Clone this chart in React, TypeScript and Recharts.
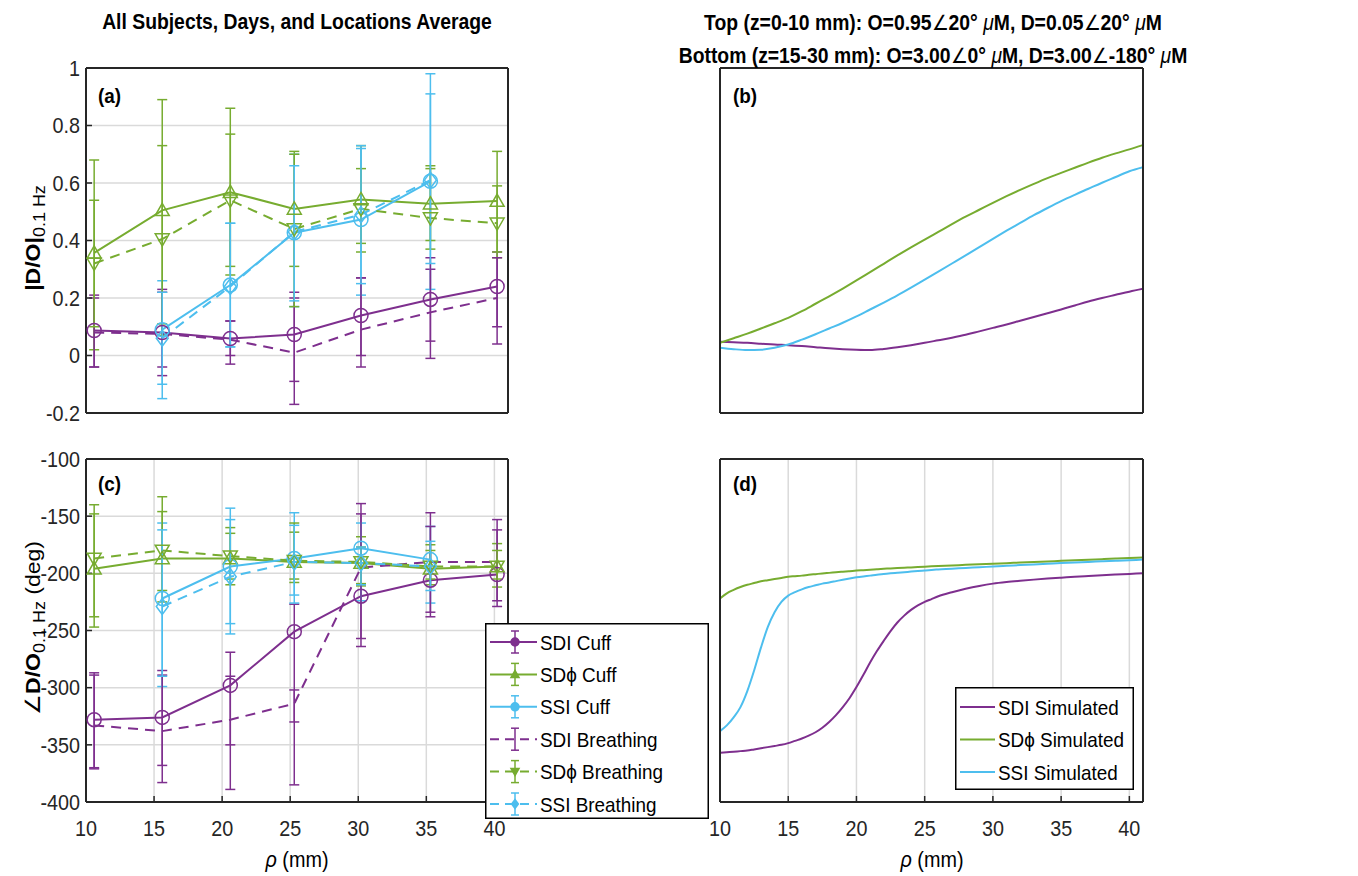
import React from "react";
import {
  ComposedChart,
  Line,
  XAxis,
  YAxis,
  CartesianGrid,
  ErrorBar,
  Legend,
} from "recharts";

const FONT = "'Liberation Sans', Arial, Helvetica, sans-serif";
const PURPLE = "#7E2F8E";
const GREEN = "#77AC30";
const BLUE = "#4DBEEE";
const INK = "#262626";
const GRID = "#dadada";
const DASH = "10 7";
const W = 1358;
const H = 876;

// source-detector distances of the measurements
const rho = [10.6, 15.6, 20.6, 25.3, 30.2, 35.3, 40.2];
const rhoSSI = [15.6, 20.6, 25.3, 30.2, 35.3];

// (a) |D/O| at 0.1 Hz, values with lower / upper error bar ends
const sdiCuffMag = [0.087, 0.08, 0.059, 0.073, 0.139, 0.195, 0.24];
const sdiCuffMagLo = [-0.04, -0.04, -0.03, -0.17, -0.04, -0.01, 0.04];
const sdiCuffMagHi = [0.21, 0.23, 0.12, 0.22, 0.27, 0.3, 0.36];
const sdpCuffMag = [0.357, 0.505, 0.568, 0.51, 0.543, 0.528, 0.537];
const sdpCuffMagLo = [0.02, 0.11, 0.28, 0.31, 0.36, 0.37, 0.34];
const sdpCuffMagHi = [0.68, 0.89, 0.86, 0.71, 0.73, 0.66, 0.71];
const ssiCuffMag = [0.09, 0.245, 0.427, 0.473, 0.606];
const ssiCuffMagLo = [-0.1, 0.03, 0.17, 0.21, 0.23];
const ssiCuffMagHi = [0.26, 0.46, 0.7, 0.72, 0.98];
const sdiBrMag = [0.08, 0.075, 0.055, 0.01, 0.09, 0.15, 0.2];
const sdiBrMagLo = [-0.04, -0.07, 0.0, -0.09, 0.0, 0.05, 0.1];
const sdiBrMagHi = [0.2, 0.22, 0.12, 0.2, 0.27, 0.34, 0.34];
const sdpBrMag = [0.32, 0.405, 0.54, 0.44, 0.51, 0.478, 0.46];
const sdpBrMagLo = [0.1, 0.07, 0.31, 0.17, 0.39, 0.4, 0.36];
const sdpBrMagHi = [0.54, 0.73, 0.77, 0.7, 0.65, 0.65, 0.59];
const ssiBrMag = [0.06, 0.24, 0.43, 0.49, 0.61];
const ssiBrMagLo = [-0.15, 0.03, 0.19, 0.25, 0.32];
const ssiBrMagHi = [0.22, 0.46, 0.66, 0.73, 0.91];

// (c) angle of D/O at 0.1 Hz (deg)
const sdiCuffPh = [-328, -326, -298, -251, -220, -206, -201];
const sdiCuffPhLo = [-371, -383, -389, -385, -264, -238, -229];
const sdiCuffPhHi = [-287, -285, -269, -227, -139, -147, -153];
const sdpCuffPh = [-196, -187, -187, -190, -191, -196, -194];
const sdpCuffPhLo = [-247, -225, -205, -208, -211, -210, -212];
const sdpCuffPhHi = [-148, -146, -165, -164, -168, -175, -174];
const ssiCuffPh = [-222, -194, -187, -178, -188];
const ssiCuffPhLo = [-299, -253, -226, -224, -226];
const ssiCuffPhHi = [-156, -143, -147, -156, -159];
const sdiBrPh = [-333, -338, -328, -314, -195, -190, -190];
const sdiBrPhLo = [-370, -368, -350, -330, -257, -234, -224];
const sdiBrPhHi = [-289, -289, -290, -302, -148, -159, -162];
const sdpBrPh = [-187, -180, -185, -189, -190, -194, -194];
const sdpBrPhLo = [-238, -215, -210, -205, -209, -205, -205];
const sdpBrPhHi = [-140, -133, -160, -156, -177, -180, -180];
const ssiBrPh = [-229, -203, -190, -191, -194];
const ssiBrPhLo = [-290, -244, -219, -210, -215];
const ssiBrPhHi = [-162, -153, -158, -177, -172];

// (b) simulated |D/O|
const simRhoB = [
  10, 11, 12, 13, 14, 15, 16, 17, 18, 19, 20, 21, 22, 23, 24, 25, 26, 27, 28,
  29, 30, 31, 32, 33, 34, 35, 36, 37, 38, 39, 40, 41,
];
const simMagSDI = [
  0.048, 0.046, 0.044, 0.041, 0.038, 0.036, 0.033, 0.029, 0.025, 0.022, 0.02,
  0.019, 0.023, 0.029, 0.036, 0.044, 0.053, 0.062, 0.072, 0.084, 0.096, 0.108,
  0.121, 0.134, 0.147, 0.16, 0.174, 0.188, 0.2, 0.211, 0.222, 0.232,
];
const simMagSDP = [
  0.044, 0.06, 0.076, 0.094, 0.112, 0.131, 0.154, 0.18, 0.206, 0.233, 0.261,
  0.29, 0.319, 0.348, 0.376, 0.403, 0.43, 0.457, 0.483, 0.507, 0.531, 0.554,
  0.576, 0.597, 0.617, 0.635, 0.653, 0.671, 0.688, 0.703, 0.717, 0.732,
];
const simMagSSI = [
  0.027, 0.022, 0.019, 0.02, 0.027, 0.038, 0.055, 0.074, 0.094, 0.114, 0.136,
  0.16, 0.184, 0.209, 0.236, 0.264, 0.292, 0.32, 0.348, 0.377, 0.406, 0.434,
  0.461, 0.488, 0.513, 0.537, 0.559, 0.58, 0.601, 0.621, 0.641, 0.655,
];

// (d) simulated angle (deg)
const simRhoD = [
  10, 10.5, 11, 11.5, 12, 12.5, 13, 13.5, 14, 14.5, 15, 15.5, 16, 16.5, 17,
  17.5, 18, 18.5, 19, 19.5, 20, 20.5, 21, 21.5, 22, 22.5, 23, 23.5, 24, 24.5,
  25, 25.5, 26, 27, 28, 29, 30, 31, 32, 33, 34, 35, 36, 37, 38, 39, 40, 41,
];
const simPhSDI = [
  -357, -356.5, -356, -355.5, -355, -354, -353, -352, -351, -350, -348.5,
  -346.5, -344.5, -342, -339, -335, -330, -324, -317, -309, -299.5, -289, -278,
  -268, -259, -250.5, -243, -237, -232, -228, -225, -222.5, -220, -216.5,
  -213.5, -211, -209, -207.6, -206.5, -205.5, -204.6, -203.8, -203, -202.3,
  -201.6, -201, -200.5, -200,
];
const simPhSDP = [
  -222, -217.5, -214.5, -212, -210, -208.5, -207, -206, -205, -204, -203,
  -202.5, -202, -201.3, -200.7, -200.1, -199.6, -199.1, -198.6, -198.1,
  -197.6, -197.2, -196.8, -196.4, -196, -195.7, -195.4, -195.1, -194.8,
  -194.5, -194.2, -193.9, -193.6, -193.1, -192.6, -192.1, -191.6, -191.1,
  -190.6, -190.1, -189.6, -189.1, -188.6, -188.1, -187.6, -187.1, -186.6,
  -186.1,
];
const simPhSSI = [
  -338, -333, -326, -317, -303, -285, -265, -247, -234, -225, -219.5, -216.5,
  -214, -212, -210.5, -209, -208, -206.8, -205.6, -204.5, -203.5, -202.7, -202,
  -201.2, -200.6, -200, -199.5, -199, -198.5, -198, -197.5, -197, -196.6, -196,
  -195.3, -194.7, -194, -193.4, -192.8, -192.2, -191.6, -191, -190.5, -190,
  -189.5, -189, -188.5, -188,
];

const xTicks = [10, 15, 20, 25, 30, 35, 40];
const magTicks = [-0.2, 0, 0.2, 0.4, 0.6, 0.8, 1];
const phaseTicks = [-400, -350, -300, -250, -200, -150, -100];

const names = [
  "SDI Cuff",
  "SD\u03D5 Cuff",
  "SSI Cuff",
  "SDI Breathing",
  "SD\u03D5 Breathing",
  "SSI Breathing",
];
const colors = [PURPLE, GREEN, BLUE, PURPLE, GREEN, BLUE];
const dashes = ["", "", "", DASH, DASH, DASH];
const markers = ["circle", "triangleUp", "circle", "none", "triangleDown", "diamond"];
const simNames = ["SDI Simulated", "SD\u03D5 Simulated", "SSI Simulated"];
const simColors = [PURPLE, GREEN, BLUE];

const rows = (xs: number[], ys: number[], lo?: number[], hi?: number[]) =>
  xs.map((x, i) => ({
    x,
    y: ys[i],
    err: lo && hi ? [ys[i] - lo[i], hi[i] - ys[i]] : undefined,
  }));

const magSets = [
  rows(rho, sdiCuffMag, sdiCuffMagLo, sdiCuffMagHi),
  rows(rho, sdpCuffMag, sdpCuffMagLo, sdpCuffMagHi),
  rows(rhoSSI, ssiCuffMag, ssiCuffMagLo, ssiCuffMagHi),
  rows(rho, sdiBrMag, sdiBrMagLo, sdiBrMagHi),
  rows(rho, sdpBrMag, sdpBrMagLo, sdpBrMagHi),
  rows(rhoSSI, ssiBrMag, ssiBrMagLo, ssiBrMagHi),
];
const phaseSets = [
  rows(rho, sdiCuffPh, sdiCuffPhLo, sdiCuffPhHi),
  rows(rho, sdpCuffPh, sdpCuffPhLo, sdpCuffPhHi),
  rows(rhoSSI, ssiCuffPh, ssiCuffPhLo, ssiCuffPhHi),
  rows(rho, sdiBrPh, sdiBrPhLo, sdiBrPhHi),
  rows(rho, sdpBrPh, sdpBrPhLo, sdpBrPhHi),
  rows(rhoSSI, ssiBrPh, ssiBrPhLo, ssiBrPhHi),
];
const simMagSets = [simMagSDI, simMagSDP, simMagSSI].map((ys) => rows(simRhoB, ys));
const simPhSets = [simPhSDI, simPhSDP, simPhSSI].map((ys) => rows(simRhoD, ys));

function Marker({ cx, cy, shape, color, size = 7, filled = false }: any) {
  if (cx == null || cy == null) return null;
  const paint = { stroke: color, strokeWidth: 1.5, fill: filled ? color : "none" };
  const s = size;
  if (shape === "circle") return <circle cx={cx} cy={cy} r={s} {...paint} />;
  if (shape === "triangleUp")
    return (
      <polygon
        points={`${cx},${cy - s} ${cx + s},${cy + s * 0.75} ${cx - s},${cy + s * 0.75}`}
        {...paint}
      />
    );
  if (shape === "triangleDown")
    return (
      <polygon
        points={`${cx},${cy + s} ${cx + s},${cy - s * 0.75} ${cx - s},${cy - s * 0.75}`}
        {...paint}
      />
    );
  if (shape === "diamond")
    return (
      <polygon
        points={`${cx},${cy - s * 1.15} ${cx + s * 0.85},${cy} ${cx},${cy + s * 1.15} ${cx - s * 0.85},${cy}`}
        {...paint}
      />
    );
  return null;
}

const XTick = ({ x, y, payload }: any) => (
  <text
    transform={`translate(${x} ${y}) scale(0.9 1)`}
    textAnchor="middle"
    dy="0.71em"
    fontSize={22}
    fontFamily={FONT}
    fill={INK}
  >
    {payload.value}
  </text>
);

const YTick = ({ x, y, payload }: any) => (
  <text
    transform={`translate(${x} ${y}) scale(0.9 1)`}
    textAnchor="end"
    dy="0.35em"
    fontSize={22}
    fontFamily={FONT}
    fill={INK}
  >
    {payload.value}
  </text>
);

const axisLine = { stroke: INK, strokeWidth: 2 };
const tickLine = { stroke: INK, strokeWidth: 1.5 };

// axes are 1px thick so Recharts draws them; margins below absorb that pixel
const frame = (yDomain: number[], yTicks: number[], xLab: boolean, yLab: boolean) => [
  <CartesianGrid key="grid" stroke={GRID} strokeWidth={1.5} />,
  <XAxis
    key="xb"
    dataKey="x"
    type="number"
    domain={[10, 41]}
    ticks={xTicks}
    allowDataOverflow
    height={1}
    tickSize={-6}
    tickMargin={24}
    tick={xLab ? XTick : false}
    axisLine={axisLine}
    tickLine={tickLine}
  />,
  <XAxis
    key="xt"
    xAxisId="top"
    orientation="top"
    dataKey="x"
    type="number"
    domain={[10, 41]}
    ticks={xTicks}
    allowDataOverflow
    height={1}
    tickSize={-6}
    tick={false}
    axisLine={axisLine}
    tickLine={tickLine}
  />,
  <YAxis
    key="yl"
    type="number"
    domain={yDomain}
    ticks={yTicks}
    allowDataOverflow
    width={1}
    tickSize={-6}
    tickMargin={12}
    tick={yLab ? YTick : false}
    axisLine={axisLine}
    tickLine={tickLine}
  />,
  <YAxis
    key="yr"
    yAxisId="right"
    orientation="right"
    type="number"
    domain={yDomain}
    ticks={yTicks}
    allowDataOverflow
    width={1}
    tickSize={-6}
    tick={false}
    axisLine={axisLine}
    tickLine={tickLine}
  />,
];

const expLines = (sets: any[]) =>
  sets.map((data, i) => (
    <Line
      key={names[i]}
      data={data}
      dataKey="y"
      name={names[i]}
      stroke={colors[i]}
      strokeWidth={2}
      strokeDasharray={dashes[i] || undefined}
      isAnimationActive={false}
      activeDot={false}
      dot={
        markers[i] === "none"
          ? false
          : (p: any) => (
              <Marker
                key={`${i}-${p.index}`}
                cx={p.cx}
                cy={p.cy}
                shape={markers[i]}
                color={colors[i]}
              />
            )
      }
    >
      <ErrorBar
        dataKey="err"
        direction="y"
        width={5}
        stroke={colors[i]}
        strokeWidth={1.5}
        isAnimationActive={false}
      />
    </Line>
  ));

const simLines = (sets: any[]) =>
  sets.map((data, i) => (
    <Line
      key={simNames[i]}
      data={data}
      dataKey="y"
      name={simNames[i]}
      type="monotone"
      stroke={simColors[i]}
      strokeWidth={2}
      dot={false}
      activeDot={false}
      isAnimationActive={false}
    />
  ));

const ExpLegend = () => (
  <svg width={224} height={196} style={{ display: "block" }}>
    <rect x={0.75} y={0.75} width={222.5} height={194.5} fill="#fff" stroke="#000" strokeWidth={1.5} />
    {names.map((n, i) => {
      const cy = 19 + i * 32.4;
      return (
        <g key={n}>
          <line
            x1={5}
            x2={52}
            y1={cy}
            y2={cy}
            stroke={colors[i]}
            strokeWidth={2}
            strokeDasharray={dashes[i] ? "9 6" : undefined}
          />
          <line x1={30} x2={30} y1={cy - 11} y2={cy + 11} stroke={colors[i]} strokeWidth={1.5} />
          <line x1={26} x2={34} y1={cy - 11} y2={cy - 11} stroke={colors[i]} strokeWidth={1.5} />
          <line x1={26} x2={34} y1={cy + 11} y2={cy + 11} stroke={colors[i]} strokeWidth={1.5} />
          <Marker cx={30} cy={cy} shape={markers[i]} color={colors[i]} size={4} filled />
          <text
            transform={`translate(55 ${cy + 7.5}) scale(0.9 1)`}
            fontSize={21}
            fontFamily={FONT}
            fill="#000"
          >
            {n}
          </text>
        </g>
      );
    })}
  </svg>
);

const SimLegend = () => (
  <svg width={179} height={103} style={{ display: "block" }}>
    <rect x={0.75} y={0.75} width={177.5} height={101.5} fill="#fff" stroke="#000" strokeWidth={1.5} />
    {simNames.map((n, i) => {
      const cy = 20 + i * 32.5;
      return (
        <g key={n}>
          <line x1={5} x2={40} y1={cy} y2={cy} stroke={simColors[i]} strokeWidth={2} />
          <text
            transform={`translate(43 ${cy + 7.5}) scale(0.9 1)`}
            fontSize={21}
            fontFamily={FONT}
            fill="#000"
          >
            {n}
          </text>
        </g>
      );
    })}
  </svg>
);

const Txt = ({ x, y, size = 21, anchor = "start", bold = false, children }: any) => (
  <text
    transform={`translate(${x} ${y}) scale(0.9 1)`}
    textAnchor={anchor}
    fontSize={size}
    fontWeight={bold ? "bold" : "normal"}
    fontFamily={FONT}
    fill="#000"
  >
    {children}
  </text>
);

const layer: React.CSSProperties = { position: "absolute", left: 0, top: 0 };
const leftTop = { top: 67, right: 849, bottom: 462, left: 85 };
const rightTop = { top: 67, right: 214, bottom: 462, left: 719 };
const leftBottom = { top: 458, right: 849, bottom: 73, left: 85 };
const rightBottom = { top: 458, right: 214, bottom: 73, left: 719 };

export default function App() {
  return (
    <div style={{ position: "absolute", left: 0, top: 0, width: W, height: H, background: "#fff" }}>
      <div style={layer}>
        <ComposedChart width={W} height={H} margin={leftTop}>
          {frame([-0.2, 1], magTicks, false, true)}
          {expLines(magSets)}
        </ComposedChart>
      </div>
      <div style={layer}>
        <ComposedChart width={W} height={H} margin={rightTop}>
          {frame([-0.2, 1], magTicks, false, false)}
          {simLines(simMagSets)}
        </ComposedChart>
      </div>
      <div style={layer}>
        <ComposedChart width={W} height={H} margin={leftBottom}>
          {frame([-400, -100], phaseTicks, true, true)}
          {expLines(phaseSets)}
          <Legend
            layout="vertical"
            align="center"
            verticalAlign="middle"
            wrapperStyle={{ left: 485, top: 623, width: 224, height: 196 }}
            content={() => <ExpLegend />}
          />
        </ComposedChart>
      </div>
      <div style={layer}>
        <ComposedChart width={W} height={H} margin={rightBottom}>
          {frame([-400, -100], phaseTicks, true, false)}
          {simLines(simPhSets)}
          <Legend
            layout="vertical"
            align="center"
            verticalAlign="middle"
            wrapperStyle={{ left: 955, top: 687, width: 179, height: 103 }}
            content={() => <SimLegend />}
          />
        </ComposedChart>
      </div>
      <svg width={W} height={H} style={{ ...layer, pointerEvents: "none" }}>
        <Txt x={297} y={29} size={21.5} anchor="middle" bold>
          All Subjects, Days, and Locations Average
        </Txt>
        <Txt x={933} y={30} size={21.5} anchor="middle" bold>
          Top (z=0-10 mm): O=0.95<tspan fontWeight="normal">∠</tspan>20°{" "}
          <tspan fontStyle="italic" fontWeight="normal">μ</tspan>M, D=0.05
          <tspan fontWeight="normal">∠</tspan>20°{" "}
          <tspan fontStyle="italic" fontWeight="normal">μ</tspan>M
        </Txt>
        <Txt x={933} y={63} size={21.5} anchor="middle" bold>
          Bottom (z=15-30 mm): O=3.00<tspan fontWeight="normal">∠</tspan>0°{" "}
          <tspan fontStyle="italic" fontWeight="normal">μ</tspan>M, D=3.00
          <tspan fontWeight="normal">∠</tspan>-180°{" "}
          <tspan fontStyle="italic" fontWeight="normal">μ</tspan>M
        </Txt>
        <Txt x={98} y={103} bold>(a)</Txt>
        <Txt x={733} y={103} bold>(b)</Txt>
        <Txt x={98} y={491} bold>(c)</Txt>
        <Txt x={733} y={491} bold>(d)</Txt>
        <Txt x={297} y={867} size={22} anchor="middle">
          <tspan fontStyle="italic">ρ</tspan> (mm)
        </Txt>
        <Txt x={932} y={867} size={22} anchor="middle">
          <tspan fontStyle="italic">ρ</tspan> (mm)
        </Txt>
        <text
          transform="translate(40 238) rotate(-90) scale(1 0.9)"
          textAnchor="middle"
          fontFamily={FONT}
          fontSize={23}
          fill="#000"
        >
          <tspan fontWeight="bold">|D/O|</tspan>
          <tspan fontSize={18} dy={6}>0.1 Hz</tspan>
        </text>
        <text
          transform="translate(40 628) rotate(-90) scale(1 0.9)"
          textAnchor="middle"
          fontFamily={FONT}
          fontSize={23}
          fill="#000"
        >
          ∠<tspan fontWeight="bold">D/O</tspan>
          <tspan fontSize={18} dy={6}>0.1 Hz</tspan>
          <tspan dy={-6}>{"  (deg)"}</tspan>
        </text>
      </svg>
    </div>
  );
}
